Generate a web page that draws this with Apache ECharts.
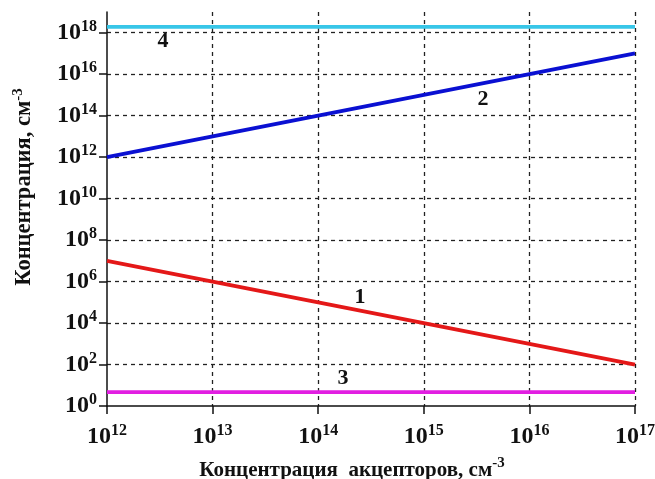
<!DOCTYPE html>
<html>
<head>
<meta charset="utf-8">
<script src="https://cdn.jsdelivr.net/npm/echarts@6/dist/echarts.min.js"></script>
<style>
  html, body { margin: 0; padding: 0; background: #fff; }
  #chart { width: 655px; height: 479px; }
</style>
</head>
<body>
<div id="chart"></div>
<script>
// концентрации носителей в зависимости от концентрации акцепторов (log-log)
const acceptors = [1e12, 1e13, 1e14, 1e15, 1e16, 1e17]
const curve1 = [1e7, 1e6, 1e5, 1e4, 1e3, 1e2]          // 1 - электроны
const curve2 = [1e12, 1e13, 1e14, 1e15, 1e16, 1e17]    // 2 - дырки
const curve3 = [4.7, 4.7, 4.7, 4.7, 4.7, 4.7]          // 3
const curve4 = [1.9e18, 1.9e18, 1.9e18, 1.9e18, 1.9e18, 1.9e18] // 4
const yTicks = [0, 2, 4, 6, 8, 10, 12, 14, 16, 18]

const FONT = '"Liberation Serif", "DejaVu Serif", serif'
const toLog = ys => acceptors.map((x, i) => [Math.log10(x), Math.log10(ys[i])])

const powRich = {
  b: { fontFamily: FONT, fontWeight: 'bold', fontSize: 24, color: '#111', lineHeight: 24, verticalAlign: 'bottom' },
  s: { fontFamily: FONT, fontWeight: 'bold', fontSize: 16, color: '#111', lineHeight: 16, padding: [0, 0, 10, 0], verticalAlign: 'bottom' }
}
const powLabel = v => `{b|10}{s|${Math.round(v)}}`

const gridLine = { show: true, lineStyle: { color: '#222', type: [4, 4], width: 1.3 } }

const chart = echarts.init(document.getElementById('chart'))

const mkLine = (data, color) => ({
  type: 'line',
  data: toLog(data),
  showSymbol: false,
  lineStyle: { color, width: 3.8 },
  z: 5
})

const curveLabel = (text, x, y) => ({
  type: 'text', x, y,
  style: { text, fontFamily: FONT, fontWeight: 'bold', fontSize: 22, fill: '#111', align: 'center', verticalAlign: 'middle' },
  z: 10
})

const titleRich = size => ({
  t: { fontFamily: FONT, fontWeight: 'bold', fontSize: size, fill: '#111', lineHeight: 22, verticalAlign: 'bottom' },
  s: { fontFamily: FONT, fontWeight: 'bold', fontSize: 15, fill: '#111', lineHeight: 15, padding: [0, 0, 10, 0], verticalAlign: 'bottom' }
})

chart.setOption({
  animation: false,
  grid: { left: 107, right: 20, top: 12, bottom: 73, outerBoundsMode: 'none', containLabel: false },
  xAxis: {
    type: 'value', min: 12, max: 17, interval: 1,
    axisLine: { show: true, lineStyle: { color: '#111', width: 1.5 } },
    axisTick: { show: true, inside: false, length: 8, lineStyle: { color: '#111', width: 1.5 } },
    axisLabel: { margin: 19, formatter: powLabel, rich: powRich },
    splitLine: Object.assign({ showMinLine: false }, gridLine)
  },
  yAxis: {
    type: 'value', min: 0, max: 19, interval: 2,
    axisLine: { show: true, lineStyle: { color: '#111', width: 1.5 } },
    axisTick: { show: true, length: 8, customValues: yTicks, lineStyle: { color: '#111', width: 1.5 } },
    axisLabel: { margin: 10, customValues: yTicks, formatter: powLabel, rich: powRich },
    splitLine: Object.assign({ showMinLine: false }, gridLine)
  },
  series: [
    mkLine(curve4, '#38c6e8'),
    mkLine(curve2, '#0a10d2'),
    mkLine(curve1, '#e41818'),
    mkLine(curve3, '#e21ee2')
  ],
  graphic: [
    curveLabel('1', 360, 297),
    curveLabel('2', 483, 99),
    curveLabel('3', 343, 378),
    curveLabel('4', 163, 41),
    {
      type: 'text', x: 25, y: 187, rotation: Math.PI / 2,
      style: { text: '{t|Концентрация, см}{s|-3}', align: 'center', verticalAlign: 'middle', rich: titleRich(22.5) }
    },
    {
      type: 'text', x: 352, y: 470,
      style: { text: '{t|Концентрация  акцепторов, см}{s|-3}', align: 'center', verticalAlign: 'middle', rich: titleRich(21) }
    }
  ]
})
</script>
</body>
</html>
